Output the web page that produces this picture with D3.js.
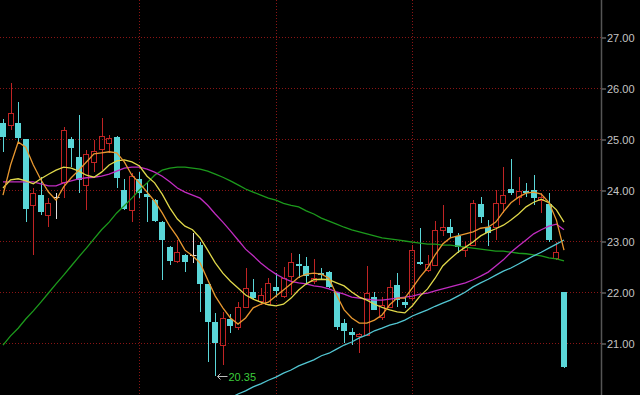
<!DOCTYPE html>
<html>
<head>
<meta charset="utf-8">
<script src="https://cdn.jsdelivr.net/npm/d3@7"></script>
<style>
html, body { margin: 0; padding: 0; background: #000; }
svg { display: block; }
</style>
</head>
<body>
<script>
// daily bars
const opens = [25.31,25.27,25.31,25.00,23.71,23.90,23.51,23.86,24.16,25.00,
  24.65,24.10,24.55,24.80,24.92,25.04,24.00,23.61,24.22,23.92,
  23.80,23.37,22.88,22.61,22.73,22.73,22.92,22.16,21.41,20.96,
  21.47,21.31,21.71,22.00,21.82,21.76,22.10,21.92,22.31,22.55,
  22.51,22.22,22.37,22.39,22.00,21.39,21.22,21.14,21.16,21.90,
  21.51,21.71,22.14,21.80,21.88,22.59,22.43,22.53,23.22,23.27,
  23.10,22.82,22.92,23.73,23.27,23.27,23.75,24.02,23.86,23.98,
  24.00,23.80,23.73,22.67,22.00]
const highs = [25.39,26.10,25.73,25.00,24.04,24.25,23.84,23.94,25.24,25.04,
  25.47,24.78,24.98,25.41,25.08,25.06,24.22,24.33,24.35,24.16,
  23.82,23.39,22.90,23.02,22.75,23.16,22.98,22.16,21.59,21.61,
  21.57,21.80,22.47,22.25,22.08,22.27,22.37,22.49,22.76,22.75,
  22.69,22.65,22.47,22.41,22.00,21.47,21.29,21.20,22.51,22.00,
  21.90,22.24,22.37,21.90,22.92,23.25,22.73,23.39,23.71,23.43,
  23.16,22.98,23.80,23.86,23.41,24.00,24.45,24.61,24.25,24.14,
  24.29,23.94,23.94,22.98,22.00]
const lows = [24.75,25.18,24.94,23.37,22.73,23.51,23.27,23.43,23.84,24.45,
  23.94,23.61,24.35,24.39,24.73,24.04,23.60,23.37,23.84,23.37,
  23.37,22.24,22.53,22.57,22.39,22.57,21.61,20.63,20.35,20.57,
  21.20,21.25,21.71,21.84,21.75,21.76,21.90,21.88,21.94,22.27,
  22.14,22.16,22.24,22.08,21.25,21.00,20.96,20.80,21.16,21.65,
  21.45,21.71,21.71,21.69,21.84,22.53,22.39,22.53,23.10,23.06,
  22.76,22.69,22.92,23.35,22.90,23.02,23.55,23.90,23.71,23.86,
  23.71,23.55,22.98,22.63,20.51]
const closes = [25.04,25.51,25.02,23.63,23.94,23.57,23.75,23.86,25.18,24.82,
  24.20,24.71,24.76,25.06,25.02,24.24,23.63,24.27,23.94,23.86,
  23.39,23.02,22.61,22.78,22.59,22.73,22.16,21.41,21.00,21.49,
  21.33,21.71,22.08,21.88,21.94,22.18,22.02,22.27,22.59,22.51,
  22.31,22.27,22.33,22.10,21.31,21.24,21.16,21.18,21.98,21.65,
  21.75,22.10,21.84,21.75,22.82,22.55,22.55,23.22,23.27,23.16,
  22.88,22.88,23.75,23.47,23.16,23.75,23.90,23.94,23.98,23.94,
  23.84,23.86,23.02,22.78,20.53]

// moving average lines
const ma5 = [23.90,24.49,24.94,24.84,24.49,24.20,23.96,23.80,24.06,24.24,
  24.39,24.55,24.71,24.73,24.75,24.73,24.55,24.29,24.14,23.96,
  23.78,23.55,23.29,23.08,22.82,22.71,22.57,22.24,21.92,21.69,
  21.49,21.37,21.49,21.69,21.76,21.80,21.92,22.04,22.16,22.29,
  22.35,22.37,22.35,22.27,21.94,21.65,21.49,21.39,21.39,21.45,
  21.55,21.75,21.88,21.88,22.08,22.29,22.47,22.73,22.94,23.06,
  23.10,23.14,23.18,23.25,23.27,23.37,23.57,23.75,23.86,23.94,
  23.96,23.92,23.76,23.41,22.82]
const ma10 = [24.04,24.20,24.22,24.18,24.12,24.22,24.31,24.39,24.45,24.43,
  24.37,24.29,24.25,24.35,24.49,24.57,24.59,24.55,24.47,24.27,
  24.14,23.92,23.65,23.43,23.29,23.22,23.06,22.82,22.57,22.37,
  22.21,22.08,21.94,21.86,21.80,21.75,21.73,21.76,21.88,22.04,
  22.16,22.24,22.25,22.24,22.18,22.12,22.00,21.90,21.84,21.76,
  21.70,21.65,21.61,21.59,21.73,21.92,22.06,22.27,22.51,22.65,
  22.78,22.88,22.98,23.10,23.18,23.24,23.31,23.41,23.53,23.67,
  23.76,23.82,23.75,23.61,23.37]
const ma20 = [24.16,24.16,24.16,24.16,24.16,24.12,24.08,24.08,24.14,24.18,
  24.22,24.24,24.25,24.27,24.31,24.37,24.43,24.45,24.45,24.41,
  24.35,24.27,24.16,24.04,23.96,23.90,23.84,23.70,23.53,23.37,
  23.20,23.02,22.84,22.71,22.57,22.45,22.35,22.27,22.21,22.18,
  22.16,22.12,22.10,22.06,22.00,21.96,21.90,21.88,21.86,21.84,
  21.84,21.86,21.88,21.90,21.92,21.96,21.98,22.02,22.06,22.10,
  22.14,22.18,22.24,22.31,22.39,22.51,22.63,22.78,22.90,23.02,
  23.14,23.22,23.29,23.33,23.22]
const ma60 = [20.96,21.14,21.29,21.47,21.63,21.80,21.98,22.16,22.33,22.51,
  22.69,22.86,23.04,23.22,23.37,23.55,23.69,23.84,24.00,24.14,
  24.29,24.39,24.43,24.45,24.45,24.43,24.41,24.37,24.31,24.25,
  24.18,24.10,24.02,23.96,23.90,23.84,23.80,23.74,23.70,23.67,
  23.59,23.53,23.45,23.39,23.33,23.27,23.22,23.18,23.14,23.10,
  23.06,23.04,23.02,23.00,22.98,22.96,22.94,22.94,22.92,22.92,
  22.90,22.88,22.86,22.84,22.82,22.80,22.80,22.78,22.76,22.75,
  22.73,22.71,22.67,22.65,22.61]
// long line only shows from bar 30 on
const ma120Start = 30
const ma120 = [19.92,20.00,20.06,20.14,20.20,20.27,20.33,20.41,20.47,20.55,
  20.61,20.67,20.75,20.80,20.88,20.96,21.02,21.10,21.16,21.24,
  21.29,21.35,21.39,21.45,21.53,21.59,21.65,21.72,21.78,21.84,
  21.92,22.00,22.10,22.18,22.25,22.33,22.41,22.47,22.55,22.63,
  22.71,22.78,22.86,22.94,23.02]

const priceTicks = [21, 22, 23, 24, 25, 26, 27]
const monthStarts = [18, 36, 54]

var width = 640, height = 395
var axisX = 601
var n = closes.length

var x = d3.scaleLinear().domain([0, n - 1]).range([3, 564])
var y = d3.scaleLinear().domain([21, 27]).range([343, 37])

var red = "#c02424", cyan = "#5ad6d8", white = "#e0e0e0"

let svg = d3.select("body").append("svg")
  .attr("width", width).attr("height", height)
  .style("background", "#000")

// dotted grid
svg.append("g").selectAll("line").data(priceTicks).join("line")
  .attr("x1", 0).attr("x2", axisX)
  .attr("y1", d => Math.round(y(d)) + 0.5).attr("y2", d => Math.round(y(d)) + 0.5)
  .attr("stroke", "#8a1515").attr("stroke-dasharray", "1,2")

svg.append("g").selectAll("line").data(monthStarts).join("line")
  .attr("x1", d => Math.round(x(d)) + 0.5).attr("x2", d => Math.round(x(d)) + 0.5)
  .attr("y1", 0).attr("y2", height)
  .attr("stroke", "#8a1515").attr("stroke-dasharray", "1,2")

// candles
var cx = i => Math.round(x(i)) + 0.5
var py = v => Math.round(y(v))
let candles = svg.append("g")

d3.range(n).forEach(i => {
  var o = opens[i], c = closes[i], h = highs[i], l = lows[i]
  var xc = cx(i)
  if (c > o) {
    candles.append("line").attr("x1", xc).attr("x2", xc)
      .attr("y1", py(h)).attr("y2", py(c)).attr("stroke", red)
    candles.append("line").attr("x1", xc).attr("x2", xc)
      .attr("y1", py(o)).attr("y2", py(l)).attr("stroke", red)
    candles.append("rect").attr("x", xc - 3).attr("y", py(c) + 0.5)
      .attr("width", 5).attr("height", Math.max(1, py(o) - py(c)))
      .attr("fill", "none").attr("stroke", red)
  } else if (c < o) {
    candles.append("line").attr("x1", xc).attr("x2", xc)
      .attr("y1", py(h)).attr("y2", py(l)).attr("stroke", cyan)
    candles.append("rect").attr("x", xc - 3.5).attr("y", py(o))
      .attr("width", 6).attr("height", Math.max(1, py(c) - py(o)))
      .attr("fill", cyan)
  } else {
    candles.append("line").attr("x1", xc).attr("x2", xc)
      .attr("y1", py(h)).attr("y2", py(l)).attr("stroke", white)
    candles.append("line").attr("x1", xc - 3.5).attr("x2", xc + 3)
      .attr("y1", py(o) + 0.5).attr("y2", py(o) + 0.5).attr("stroke", white)
  }
})

// moving averages
var line = d3.line().x(d => x(d[0])).y(d => y(d[1]))
var series = [
  {vals: ma60, start: 0, color: "#1c9a1c"},
  {vals: ma120, start: ma120Start, color: "#52c6d2"},
  {vals: ma20, start: 0, color: "#c02cc0"},
  {vals: ma10, start: 0, color: "#e0d84a"},
  {vals: ma5, start: 0, color: "#e89830"}
]
svg.append("g").selectAll("path").data(series).join("path")
  .attr("d", s => line(s.vals.map((v, k) => [k + s.start, v])))
  .attr("fill", "none").attr("stroke", s => s.color).attr("stroke-width", 1.3)

// lowest low marker
var lowIdx = d3.minIndex(lows)
var ly = Math.round(y(lows[lowIdx])) + 0.5
var lx = cx(lowIdx) + 2
svg.append("path")
  .attr("d", `M${lx + 10},${ly}H${lx}M${lx + 3},${ly - 3}L${lx},${ly}L${lx + 3},${ly + 3}`)
  .attr("fill", "none").attr("stroke", "#bdbdbd")
svg.append("text").attr("x", lx + 11).attr("y", ly + 4)
  .attr("font-family", "Liberation Sans, Arial, sans-serif").attr("font-size", 11)
  .attr("fill", "#3ccc3c").text(d3.format(".2f")(lows[lowIdx]))

// right price axis
svg.append("line").attr("x1", axisX + 0.5).attr("x2", axisX + 0.5)
  .attr("y1", 0).attr("y2", height).attr("stroke", "#555").attr("stroke-width", 1.5)

var axis = d3.axisRight(y).tickValues(priceTicks).tickFormat(d3.format(".2f"))
  .tickSize(4).tickSizeOuter(0)
svg.append("g").attr("transform", `translate(${axisX + 1},0.5)`).call(axis)
  .call(g => g.select(".domain").remove())
  .call(g => g.selectAll("line").attr("stroke", "#8c8c8c"))
  .call(g => g.selectAll("text").attr("x", 5).attr("fill", "#c4c4c4")
    .attr("font-family", "Liberation Sans, Arial, sans-serif").attr("font-size", 11))
</script>
</body>
</html>
